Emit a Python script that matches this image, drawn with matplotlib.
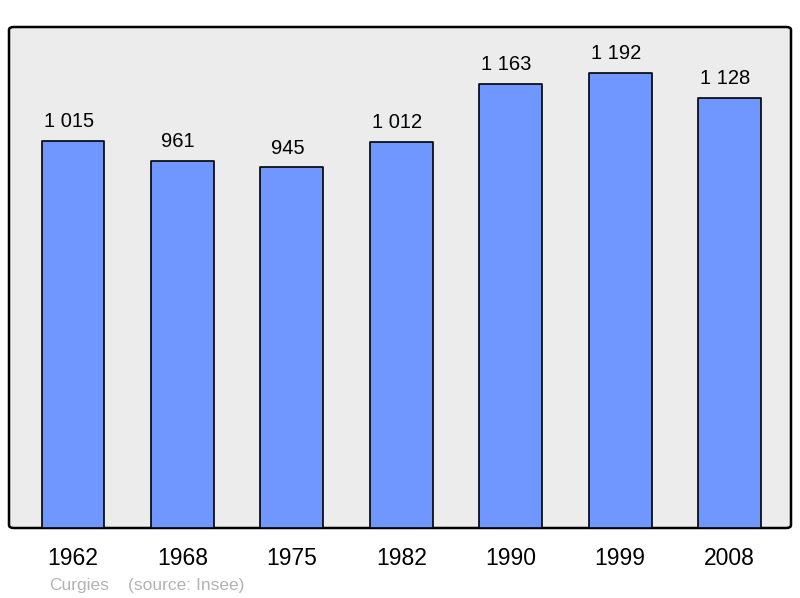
import matplotlib
matplotlib.use("Agg")
import matplotlib.pyplot as plt
from matplotlib.patches import FancyBboxPatch

years = ["1962", "1968", "1975", "1982", "1990", "1999", "2008"]
population = [1015, 961, 945, 1012, 1163, 1192, 1128]
labels = ["1 015", "961", "945", "1 012", "1 163", "1 192", "1 128"]

plt.rcParams["font.family"] = ["Liberation Sans", "DejaVu Sans"]

fig = plt.figure(figsize=(8, 5.98), dpi=100)
ax = fig.add_axes([9 / 800, 70 / 598, 782 / 800, 501 / 598])
ax.set_facecolor("none")

# rounded frame
frame = FancyBboxPatch((0, 0), 1, 1, boxstyle="round,pad=0,rounding_size=0.006",
                       transform=ax.transAxes, facecolor="#ececec",
                       edgecolor="black", linewidth=1.8, zorder=0, clip_on=False)
ax.add_patch(frame)

x = range(len(years))
bars = ax.bar(x, population, width=0.575, color="#7096ff", edgecolor="black",
              linewidth=1.2, zorder=2)
for b in bars:
    b.set_joinstyle("round")

for xi, v, lab in zip(x, population, labels):
    ax.annotate(lab, (xi, v), xytext=(-3, 10), textcoords="offset points",
                ha="center", va="baseline", fontsize=14.5, color="black")

ax.set_xlim(-0.585, 6.5625)
ax.set_ylim(0, 1313)
ax.set_xticks(list(x))
ax.set_xticklabels(years, fontsize=16.5)
ax.tick_params(axis="x", length=0, pad=14)
ax.set_yticks([])
for s in ax.spines.values():
    s.set_visible(False)

fig.text(49 / 800, 8 / 598, "Curgies", fontsize=12.5, color="#b3b3b3", va="baseline")
fig.text(128 / 800, 8 / 598, "(source: Insee)", fontsize=12.5, color="#b3b3b3", va="baseline")

fig.savefig("out.png", dpi=100)
